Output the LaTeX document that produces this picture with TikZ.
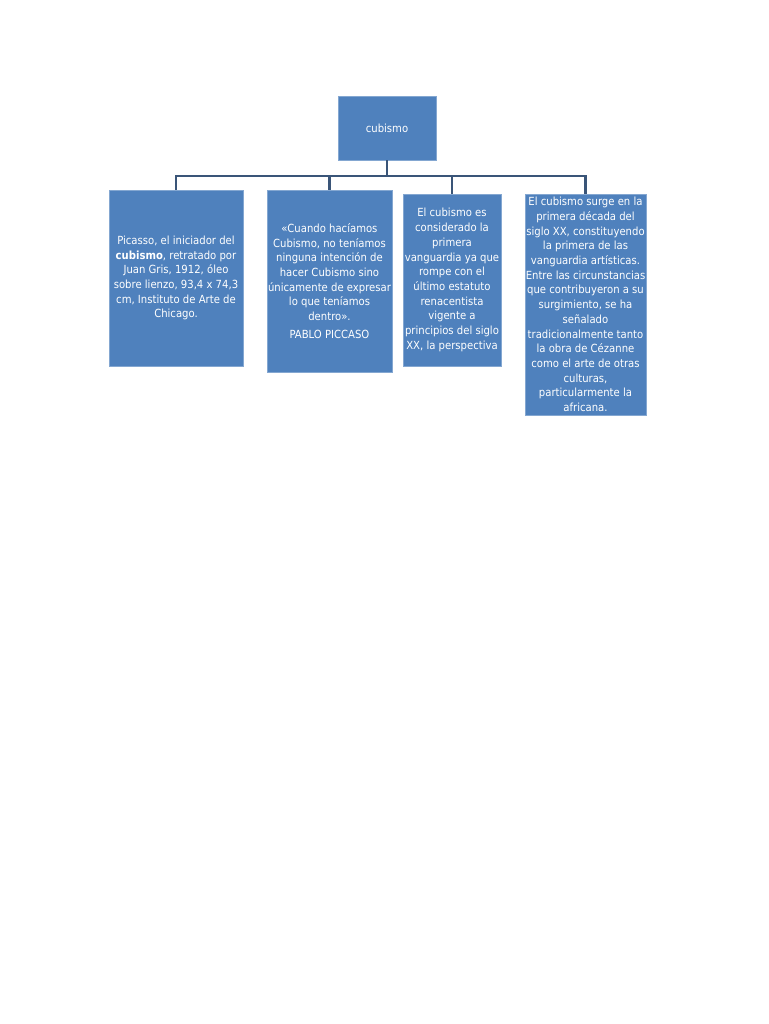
\documentclass[tikz,border=0pt]{standalone}
\usepackage{fontspec}
\setmainfont{DejaVu Sans Condensed}
\usepackage{tikz}
\definecolor{boxblue}{HTML}{4F81BD}
\definecolor{linkblue}{HTML}{3A5578}

\begin{document}
\begin{tikzpicture}[x=1pt,y=1pt,
  cbox/.style={draw=boxblue!70!white,fill=boxblue,text=white,align=center,inner sep=0pt,
    font=\fontsize{11.2}{14.7}\selectfont},
  link/.style={linkblue,line width=2.4pt}]
\useasboundingbox (0,0) rectangle (768,-1024);
\fill[white] (0,0) rectangle (768,-1024);

\node[cbox,minimum width=98,minimum height=64] (top) at (387,-128) {cubismo};
\node[cbox,minimum width=134,minimum height=176] (picasso) at (176,-278)
  {Picasso, el iniciador del\\\textbf{cubismo}, retratado por\\Juan Gris, 1912, óleo\\sobre lienzo, 93,4 x 74,3\\cm, Instituto de Arte de\\Chicago.};
\node[cbox,minimum width=125,minimum height=182] (quote) at (329.5,-281)
  {«Cuando hacíamos\\Cubismo, no teníamos\\ninguna intención de\\hacer Cubismo sino\\únicamente de expresar\\lo que teníamos\\dentro».\\[3pt]PABLO PICCASO};
\node[cbox,minimum width=98,minimum height=172] (vanguard) at (452,-280)
  {El cubismo es\\considerado la\\primera\\vanguardia ya que\\rompe con el\\último estatuto\\renacentista\\vigente a\\principios del siglo\\XX, la perspectiva};
\node[cbox,minimum width=121,minimum height=221] (origin) at (585.5,-304.5)
  {El cubismo surge en la\\primera década del\\siglo XX, constituyendo\\la primera de las\\vanguardia artísticas.\\Entre las circunstancias\\que contribuyeron a su\\surgimiento, se ha\\señalado\\tradicionalmente tanto\\la obra de Cézanne\\como el arte de otras\\culturas,\\particularmente la\\africana.};

\coordinate (bar) at (0,-176);
\draw[link] (top.south) -- (top.south |- bar);
\draw[link] (picasso.north) -- (picasso.north |- bar) -- (origin.north |- bar) -- (origin.north);
\draw[link] (quote.north) -- (quote.north |- bar);
\draw[link] (vanguard.north) -- (vanguard.north |- bar);
\end{tikzpicture}
\end{document}
